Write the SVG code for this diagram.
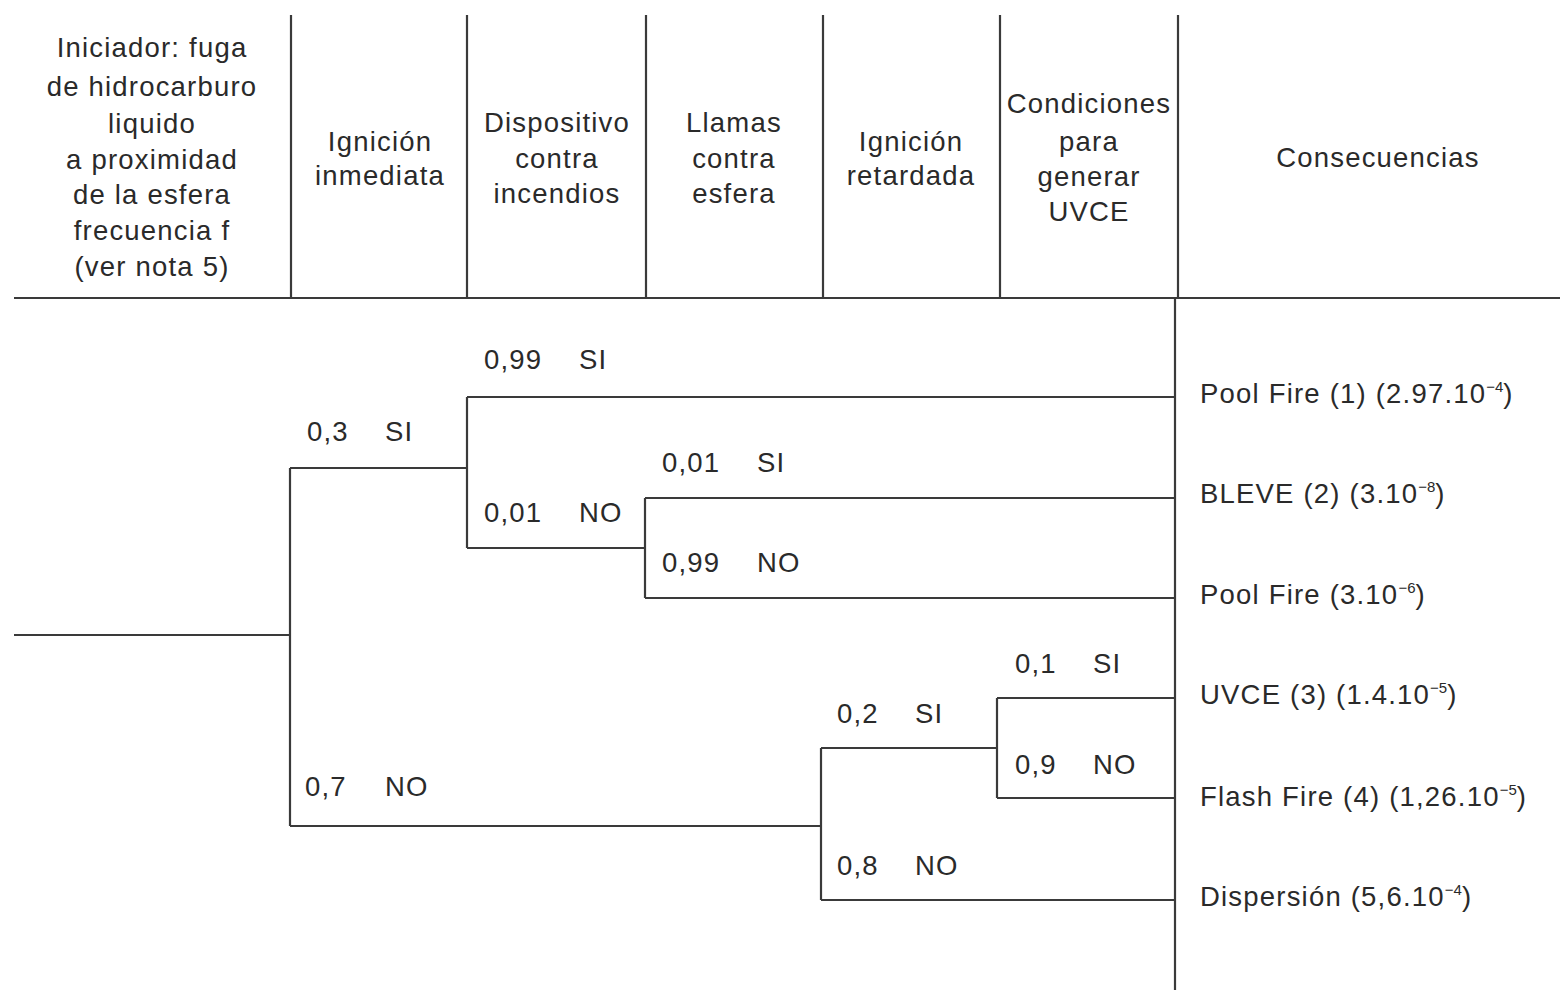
<svg xmlns="http://www.w3.org/2000/svg" width="1560" height="990" viewBox="0 0 1560 990">
<style>
text{font-family:"Liberation Sans","DejaVu Sans",sans-serif;font-size:27.5px;letter-spacing:1.2px;fill:#2a2a2a}
.h{text-anchor:middle}
.ln{stroke:#3a3a3a;stroke-width:2.2;fill:none}
.sup{font-size:15px;letter-spacing:0}
</style>
<rect width="1560" height="990" fill="#ffffff"/>
<g id="header">
<path class="ln" d="M14 298H1560M291 15V298M467 15V298M646 15V298M823 15V298M1000 15V298M1178 15V298"/>
<text class="h" x="152" y="57">Iniciador: fuga</text>
<text class="h" x="152" y="96">de hidrocarburo</text>
<text class="h" x="152" y="133">liquido</text>
<text class="h" x="152" y="169">a proximidad</text>
<text class="h" x="152" y="204">de la esfera</text>
<text class="h" x="152" y="240">frecuencia f</text>
<text class="h" x="152" y="276">(ver nota 5)</text>
<text class="h" x="380" y="151">Ignición</text>
<text class="h" x="380" y="185">inmediata</text>
<text class="h" x="557" y="132">Dispositivo</text>
<text class="h" x="557" y="168">contra</text>
<text class="h" x="557" y="203">incendios</text>
<text class="h" x="734" y="132">Llamas</text>
<text class="h" x="734" y="168">contra</text>
<text class="h" x="734" y="203">esfera</text>
<text class="h" x="911" y="151">Ignición</text>
<text class="h" x="911" y="185">retardada</text>
<text class="h" x="1089" y="113">Condiciones</text>
<text class="h" x="1089" y="151">para</text>
<text class="h" x="1089" y="186">generar</text>
<text class="h" x="1089" y="221">UVCE</text>
<text class="h" x="1378" y="167">Consecuencias</text>
</g>
<g id="connectors">
<path class="ln" d="M1175 298V990"/>
<path class="ln" d="M14 635H290M290 468V826"/>
<path class="ln" d="M290 468H467M467 397V548M467 397H1175M467 548H645M645 498V598M645 498H1175M645 598H1175"/>
<path class="ln" d="M290 826H821M821 748V900M821 748H997M997 698V798M997 698H1175M997 798H1175M821 900H1175"/>
</g>
<g id="labels">
<text x="484" y="369">0,99<tspan x="579">SI</tspan></text>
<text x="307" y="441">0,3<tspan x="385">SI</tspan></text>
<text x="662" y="472">0,01<tspan x="757">SI</tspan></text>
<text x="484" y="522">0,01<tspan x="579">NO</tspan></text>
<text x="662" y="572">0,99<tspan x="757">NO</tspan></text>
<text x="1015" y="673">0,1<tspan x="1093">SI</tspan></text>
<text x="837" y="723">0,2<tspan x="915">SI</tspan></text>
<text x="1015" y="774">0,9<tspan x="1093">NO</tspan></text>
<text x="305" y="796">0,7<tspan x="385">NO</tspan></text>
<text x="837" y="875">0,8<tspan x="915">NO</tspan></text>
</g>
<g id="consequences">
<text x="1200" y="403">Pool Fire (1) (2.97.10<tspan class="sup" dy="-11">−4</tspan><tspan dy="11">)</tspan></text>
<text x="1200" y="503">BLEVE (2) (3.10<tspan class="sup" dy="-11">−8</tspan><tspan dy="11">)</tspan></text>
<text x="1200" y="604">Pool Fire (3.10<tspan class="sup" dy="-11">−6</tspan><tspan dy="11">)</tspan></text>
<text x="1200" y="704">UVCE (3) (1.4.10<tspan class="sup" dy="-11">−5</tspan><tspan dy="11">)</tspan></text>
<text x="1200" y="806">Flash Fire (4) (1,26.10<tspan class="sup" dy="-11">−5</tspan><tspan dy="11">)</tspan></text>
<text x="1200" y="906">Dispersión (5,6.10<tspan class="sup" dy="-11">−4</tspan><tspan dy="11">)</tspan></text>
</g>
</svg>
